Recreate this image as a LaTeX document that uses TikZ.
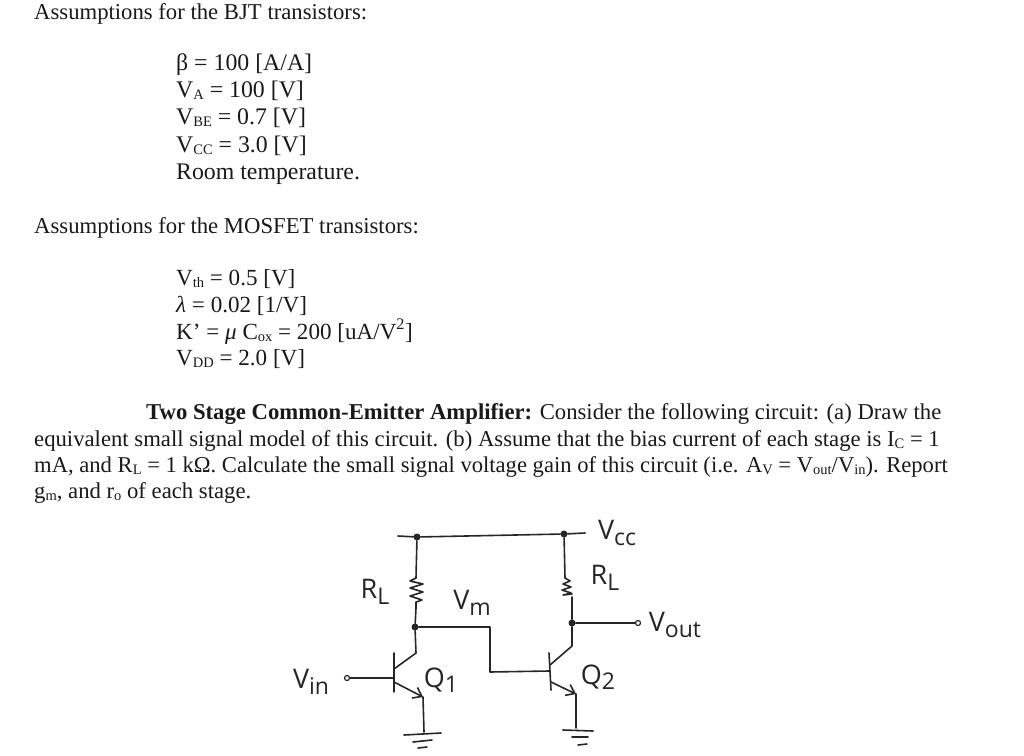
\documentclass[tikz,border=0pt]{standalone}
\usepackage{fontspec}
\setmainfont{Liberation Serif}
\newfontfamily\handfont{Open Sans}
\usetikzlibrary{arrows.meta, positioning}
\newcommand{\lowtxt}[1]{\raisebox{-0.12em}{\fontsize{14.5}{14.5}\selectfont #1}}
\newcommand{\handlow}[1]{\raisebox{-0.2em}{\fontsize{23}{23}\selectfont #1}}

\begin{document}
\begin{tikzpicture}[x=1pt, y=-1pt]
\tikzstyle{txt} = [anchor=base west, inner sep=0pt, text=black!90, font=\fontsize{22.7}{27}\selectfont]
\tikzstyle{bjtline} = [txt, font=\fontsize{23.8}{27}\selectfont]
\tikzstyle{mosline} = [txt, font=\fontsize{23.1}{27}\selectfont]
\tikzstyle{hand} = [inner sep=0pt, text=black!85, font=\fontsize{27}{27}\handfont]
\tikzstyle{wire} = [draw, line width=1.6pt, black!85, line join=round, line cap=round]
\tikzstyle{dot} = [circle, fill=black!85, inner sep=0pt, minimum size=7pt]
\tikzstyle{term} = [circle, draw=black!85, fill=white, line width=1.2pt, inner sep=0pt, minimum size=5pt]
    \useasboundingbox (0,0) rectangle (1024,755);
    % Place text
    \node [txt] (bjthead) at (34,19) {Assumptions for the BJT transistors:};
    \node [bjtline] (beta) at (176,70) {β = 100 [A/A]};
    \node [bjtline] (va) at (176,97) {V\lowtxt{A} = 100 [V]};
    \node [bjtline] (vbe) at (176,124) {V\lowtxt{BE} = 0.7 [V]};
    \node [bjtline] (vcc) at (176,152) {V\lowtxt{CC} = 3.0 [V]};
    \node [bjtline] (room) at (176,179) {Room temperature.};
    \node [txt] (moshead) at (34,233) {Assumptions for the MOSFET transistors:};
    \node [mosline] (vth) at (176,285) {V\lowtxt{th} = 0.5 [V]};
    \node [mosline] (lambda) at (176,312) {\textit{λ} = 0.02 [1/V]};
    \node [mosline] (kprime) at (176,339) {K’ = \textit{μ} C\lowtxt{ox} = 200 [uA/V\textsuperscript{2}]};
    \node [mosline] (vdd) at (176,365) {V\lowtxt{DD} = 2.0 [V]};
    \node [txt] (parone) at (146,419) {\textbf{Two Stage Common-Emitter Amplifier:} Consider the following circuit: (a) Draw the};
    \node [txt] (partwo) at (34,446) {equivalent small signal model of this circuit. (b) Assume that the bias current of each stage is I\lowtxt{C} = 1};
    \node [txt, font=\fontsize{22.6}{27}\selectfont] (parthree) at (34,472) {mA, and R\lowtxt{L} = 1 kΩ. Calculate the small signal voltage gain of this circuit (i.e. A\lowtxt{V} = V\lowtxt{out}/V\lowtxt{in}). Report};
    \node [txt] (parfour) at (34,498) {g\lowtxt{m}, and r\lowtxt{o} of each stage.};

    % Place circuit nodes
    \coordinate (railstart) at (398,536);
    \coordinate (railend) at (585,533);
    \node [dot] (railL) at (417,537) {};
    \node [dot] (railR) at (564,534) {};
    \node [dot] (colL) at (415,627) {};
    \node [dot] (colR) at (572,623) {};
    \node [term] (vinterm) at (347,678) {};
    \node [term] (voutterm) at (638,623) {};
    \coordinate (rlatop) at (416,578);
    \coordinate (rlabot) at (416,608);
    \coordinate (rlbtop) at (565,578);
    \coordinate (rlbbot) at (572,600);
    \coordinate (cola) at (416,653);
    \coordinate (colb) at (572,646);
    \coordinate (bara) at (394,669);
    \coordinate (barb) at (550,665);
    \coordinate (basea) at (394,678);
    \coordinate (baseb) at (549,671);
    \coordinate (ema) at (394,682);
    \coordinate (emb) at (551,682);
    \coordinate (gnda) at (423,697);
    \coordinate (gndb) at (576,694);
    \coordinate (stepa) at (490,627);
    \coordinate (stepb) at (490,672);

    % Labels
    \node [hand] (vcclabel) at (617,533) {V\handlow{cc}};
    \node [hand] (rlalabel) at (375,592) {R\handlow{L}};
    \node [hand] (rlblabel) at (605,578) {R\handlow{L}};
    \node [hand] (vmlabel) at (472,603) {V\handlow{m}};
    \node [hand] (voutlabel) at (675,625) {V\handlow{out}};
    \node [hand] (vinlabel) at (311,682) {V\handlow{in}};
    \node [hand] (qalabel) at (441,680) {Q\handlow{1}};
    \node [hand] (qblabel) at (598,677) {Q\handlow{2}};

%paths
    \path [wire] (railstart) -- (railL) -- (railR) -- (railend);
    % left branch
    \path [wire] (railL) -- (rlatop) -- ++(-6,3) -- ++(13,3) -- ++(-13,4) -- ++(13,4) -- ++(-13,4) -- ++(12,4) -- ++(-6,2) -- (rlabot) -- (colL) -- (cola) -- (bara);
    \path [wire] (394,653) -- (394,692);
    \path [wire] (vinterm) -- (basea);
    \path [wire, -{Straight Barb[length=8pt,width=12pt]}] (ema) -- (gnda);
    \path [wire] (gnda) -- (424,732);
    \path [wire] (404,735) -- (441,733);
    \path [wire] (413,742) -- (432,740);
    \path [wire] (418,748) -- (427,747);
    % right branch
    \path [wire] (railR) -- (rlbtop) -- ++(5,3) -- ++(-7,3) -- ++(8,3) -- ++(-9,3) -- ++(9,3) -- ++(-8,2) -- ++(9,-1);
    \path [wire] (rlbbot) -- (572,597);
    \path [wire] (rlbbot) -- (colR) -- (colb) -- (barb);
    \path [wire] (549,653) -- (551,690);
    \path [wire, -{Straight Barb[length=8pt,width=12pt]}] (emb) -- (gndb);
    \path [wire] (gndb) -- (576,728);
    \path [wire] (563,730) -- (593,731);
    \path [wire] (572,737) -- (588,737);
    \path [wire] (578,745) -- (587,744);
    % interstage and output
    \path [wire] (colL) -- (stepa) -- (stepb) -- (baseb);
    \path [wire] (colR) -- (voutterm);
\end{tikzpicture}
\end{document}
